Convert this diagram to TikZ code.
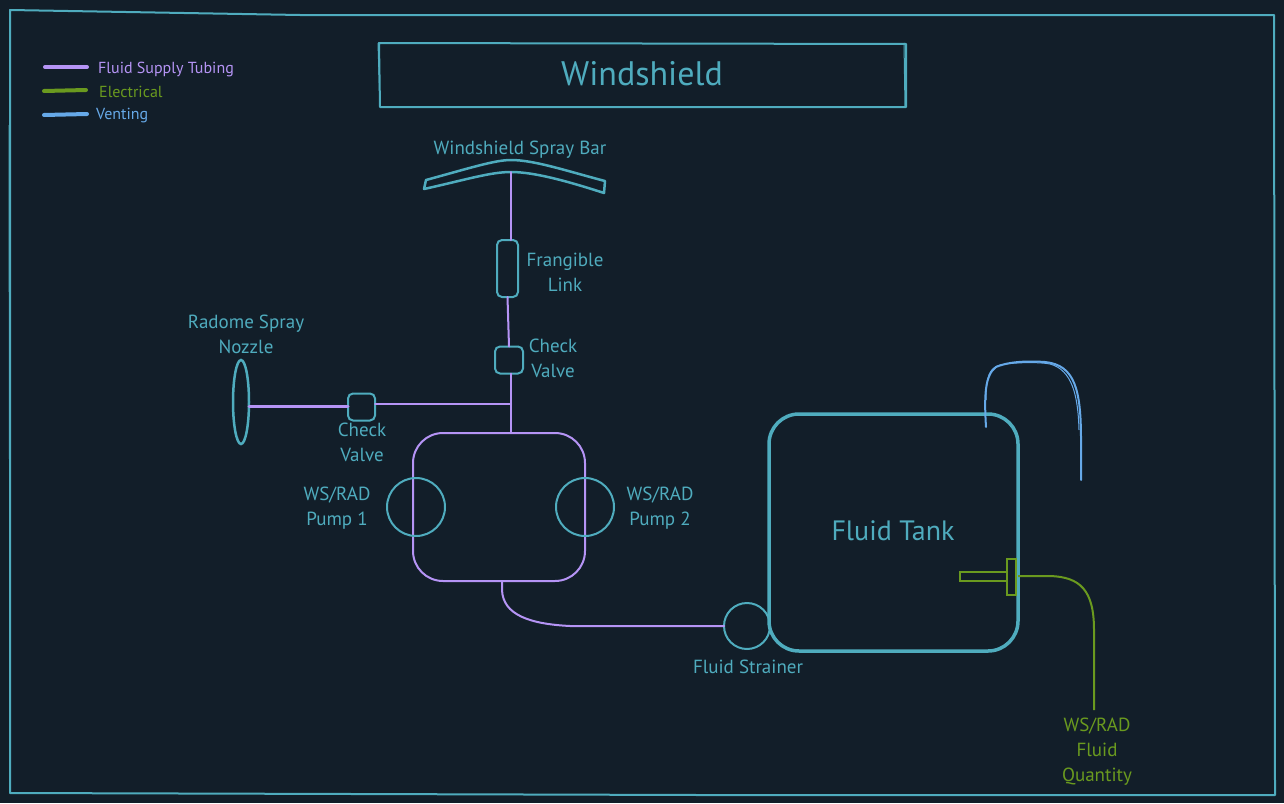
\documentclass[tikz,border=0pt]{standalone}
\usepackage{fontspec}
\setmainfont{PT Sans}
\usetikzlibrary{shapes.geometric}
\definecolor{bgc}{HTML}{121E29}
\definecolor{teal}{HTML}{4FACBE}
\definecolor{purp}{HTML}{B594F5}
\definecolor{grn}{HTML}{6A9A1F}
\definecolor{blu}{HTML}{66A9E8}
\tikzset{
 lbl/.style={text=teal,align=center,inner sep=0pt,font=\fontsize{19}{25}\selectfont},
 part/.style={draw=teal,line width=2pt,rounded corners=5pt,inner sep=0pt,outer sep=0pt},
 roundpart/.style={draw=teal,line width=2pt,circle,inner sep=0pt,outer sep=0pt},
 pipe/.style={draw=purp,line width=2pt,line cap=round},
 legend/.style={line width=4pt,line cap=round},
 legtxt/.style={anchor=west,inner sep=0pt,font=\fontsize{16}{20}\selectfont}
}
\begin{document}
\begin{tikzpicture}[x=1pt,y=-1pt]
\useasboundingbox (0,0) rectangle (1284,803);
\fill[bgc] (0,0) rectangle (1284,803);
% frame
\draw[teal,line width=2pt,line join=round] (10,10) -- (300,15) -- (1274,15) -- (1275,795) -- (700,795) -- (10,793) -- cycle;
\draw[teal,line width=1pt] (9,125) -- (10,793);
% legend
\coordinate (la) at (45,67); \coordinate (lb) at (87,67);
\coordinate (lc) at (44,91); \coordinate (ld) at (86,90);
\coordinate (le) at (44,115); \coordinate (lf) at (87,114);
\draw[legend,purp] (la) -- (lb);
\draw[legend,grn] (lc) -- (ld);
\draw[legend,blu] (le) -- (lf);
\node[legtxt,text=purp] (t1) at (98,69) {Fluid Supply Tubing};
\node[legtxt,text=grn] (t2) at (99,92) {Electrical};
\node[legtxt,text=blu] (t3) at (96,116) {Venting};
% title
\draw[teal,line width=2pt,line join=round] (379,43) -- (906,44) -- (906,107) -- (380,107) -- cycle;
\draw[teal,line width=1pt] (378,43) -- (380,107) (904,43) -- (905,107);
\node[lbl,font=\fontsize{34}{40}\selectfont] (title) at (642,74) {Windshield};
% spray bar
\draw[teal,line width=2.5pt,line join=round] (426,180) .. controls (470,168) and (495,160) .. (511,160) .. controls (535,160) and (570,172) .. (605,181) -- (604,193) .. controls (570,182) and (535,172) .. (511,172) .. controls (490,172) and (465,180) .. (424,189) -- cycle;
\coordinate (bar) at (511,172);
\node[lbl] (t4) at (520,150) {Windshield Spray Bar};
% frangible, valves
\node[part,minimum width=21pt,minimum height=57pt] (frang) at (507.5,268.5) {};
\node[lbl] (t5) at (565,272) {Frangible\\Link};
\node[part,minimum width=28pt,minimum height=27pt] (cv1) at (509,360) {};
\node[lbl] (t6) at (553,358) {Check\\Valve};
\coordinate (tee) at (511,404);
\node[part,minimum width=27pt,minimum height=27pt] (cv2) at (361.5,407) {};
\node[lbl] (t7) at (362,442) {Check\\Valve};
\node[draw=teal,line width=2.5pt,ellipse,minimum width=16pt,minimum height=84pt,inner sep=0pt,outer sep=0pt] (noz) at (241,402) {};
\node[lbl] (t8) at (246,334) {Radome Spray\\Nozzle};
% pumps
\node[draw=purp,line width=2pt,rounded corners=30pt,minimum width=172pt,minimum height=148pt,inner sep=0pt,outer sep=0pt] (pumps) at (499,507) {};
\node[roundpart,minimum size=58pt] (p1) at (416,507) {};
\node[roundpart,minimum size=58pt] (p2) at (585,507) {};
\node[lbl] (t9) at (337,508) {WS/RAD\\Pump 1};
\node[lbl] (t10) at (660,508) {WS/RAD\\Pump 2};
% tank
\node[draw=teal,line width=3.5pt,rounded corners=30pt,minimum width=249pt,minimum height=237pt,inner sep=0pt,outer sep=0pt] (tank) at (893.5,532.5) {};
\node[lbl,font=\fontsize{28}{32}\selectfont] (t11) at (893,531) {Fluid Tank};
\node[roundpart,minimum size=46pt] (strain) at (747,626) {};
\node[lbl] (t12) at (748,667) {Fluid Strainer};
% sensor
\node[draw=grn,line width=2pt,inner sep=0pt,outer sep=0pt,minimum width=47pt,minimum height=9pt] (probe) at (983.5,576.5) {};
\node[draw=grn,line width=2pt,inner sep=0pt,outer sep=0pt,minimum width=9pt,minimum height=36pt] (flange) at (1011.5,577) {};
\node[lbl,text=grn] (t13) at (1097,752) {WS/RAD\\Fluid\\Quantity};
\coordinate (wire) at (1018,576);
\coordinate (wend) at (1094,710);
\draw[grn,line width=2pt] (wire) -- (1050,576) .. controls (1080,577) and (1094,590) .. (1094,630) -- (wend);
% vent
\coordinate (va) at (986,427); \coordinate (vb) at (1081,480);
\draw[blu,line width=2pt,line cap=round] (va) .. controls (984,395) and (985,375) .. (996,367) .. controls (1010,361) and (1030,361) .. (1045,362) .. controls (1075,365) and (1081,390) .. (1081,440) -- (vb);
\draw[blu,line width=1pt] (986,400) .. controls (986,375) and (990,368) .. (1000,365) .. controls (1015,362) and (1040,362) .. (1050,364) .. controls (1072,370) and (1078,395) .. (1079,430);
% pipes
\draw[pipe] (bar) -- (frang.north -| bar);
\draw[pipe] (frang.south) -- (cv1.north);
\draw[pipe] (cv1.south -| bar) -- (pumps.north -| bar);
\draw[pipe] (tee) -- (cv2.east |- tee);
\draw[pipe,line width=3pt] (cv2.west |- 0,406) -- (noz.east |- 0,406);
\coordinate (pout) at (502,581);
\draw[pipe] (pout) -- (502,590) .. controls (503,615) and (530,624) .. (570,626) -- (strain.west);
\end{tikzpicture}
\end{document}
